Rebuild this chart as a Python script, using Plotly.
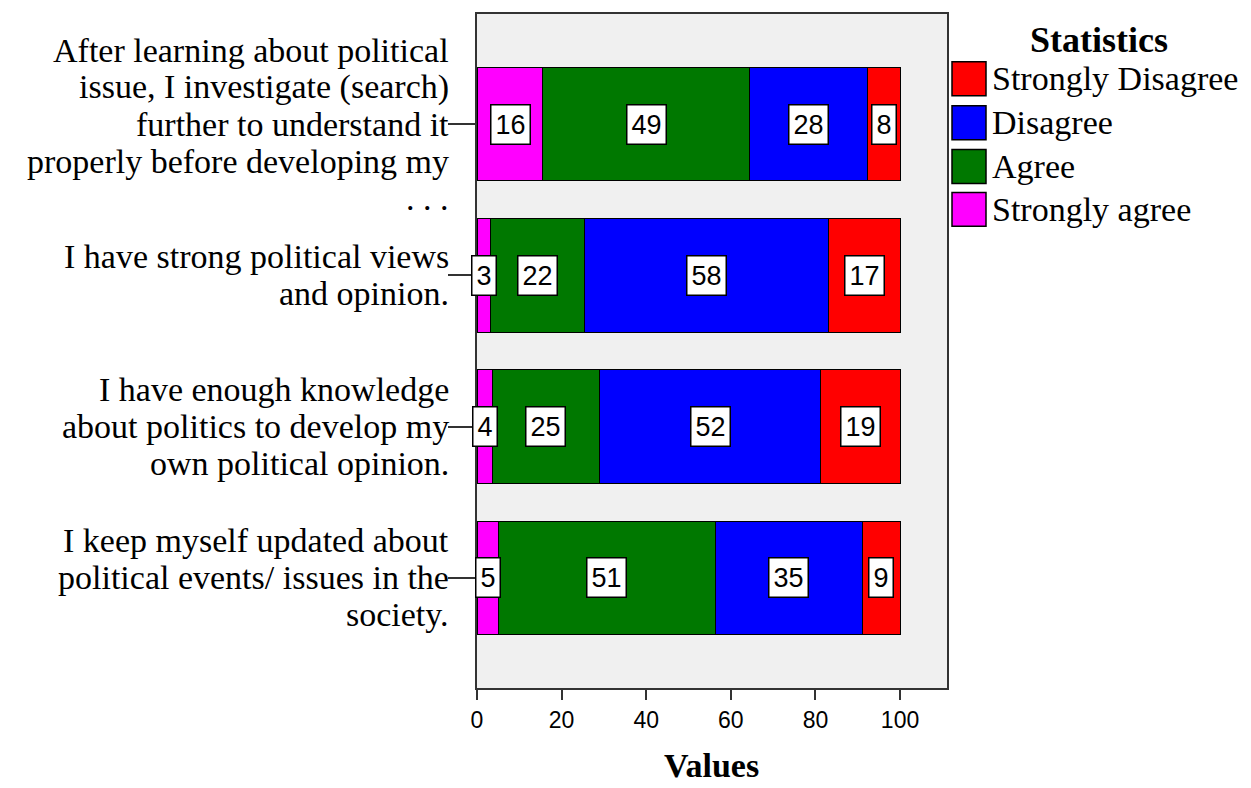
import plotly.graph_objects as go

# ---------------- data ----------------
categories = [
    ["After learning about political", "issue, I investigate (search)", "further to understand it",
     "properly before developing my", ". . ."],
    ["I have strong political views", "and opinion."],
    ["I have enough knowledge", "about politics to develop my", "own political opinion."],
    ["I keep myself updated about", "political events/ issues in the", "society."],
]
series_names = ["Strongly agree", "Agree", "Disagree", "Strongly Disagree"]
strongly_agree = [15.6, 3.1, 3.6, 5.0]
agree = [48.9, 22.2, 25.4, 51.3]
disagree = [27.9, 57.7, 52.3, 34.8]
strongly_disagree = [7.6, 17.0, 18.7, 8.9]
series_values = [strongly_agree, agree, disagree, strongly_disagree]
series_colors = ["#FF00FF", "#007800", "#0000FF", "#FF0000"]
legend_order = [3, 2, 1, 0]
x_ticks = [0, 20, 40, 60, 80, 100]

# ---------------- layout geometry (pixels, in the 1251x788 window) ----------------
W, H = 1251, 788
OX, OY = 8, 8          # page body margin offset
L, R, T, B = 477, 947, 12, 688


def px_x(p):
    return (p - L) / (R - L)


def px_y(p):
    return (B - p) / (B - T)


SERIF = "Liberation Serif"
SANS = "Liberation Sans"

fig = go.Figure()
yidx = list(range(len(categories)))
for name, vals, col in zip(series_names, series_values, series_colors):
    fig.add_trace(go.Bar(
        y=yidx, x=vals, name=name, orientation="h",
        marker=dict(color=col, line=dict(color="#000000", width=1)),
        width=0.75, showlegend=False, hoverinfo="x+name",
    ))

annotations = []
# value labels
for i in yidx:
    start = 0.0
    for vals in series_values:
        v = vals[i]
        annotations.append(dict(
            x=start + v / 2, y=i, xref="x", yref="y", text=f"{v:.0f}", showarrow=False,
            font=dict(family=SANS, size=27, color="#000000"),
            bgcolor="#FFFFFF", bordercolor="#000000", borderwidth=1.5, borderpad=4,
        ))
        start += v

# category labels (one annotation per line)
LINE = 37
for i, lines in enumerate(categories):
    n = len(lines)
    for j, line in enumerate(lines):
        annotations.append(dict(
            x=0, y=i, xref="paper", yref="y", text=line, showarrow=False,
            xanchor="right", yanchor="middle", xshift=-26,
            yshift=((n - 1) / 2 - j) * LINE,
            font=dict(family=SERIF, size=34, color="#000000"),
        ))

# x-axis title
annotations.append(dict(
    x=px_x(711), y=px_y(766), xref="paper", yref="paper", text="<b>Values</b>",
    showarrow=False, xanchor="center", yanchor="middle",
    font=dict(family=SERIF, size=34, color="#000000"),
))

# manual legend
annotations.append(dict(
    x=px_x(1099), y=px_y(38), xref="paper", yref="paper", text="<b>Statistics</b>",
    showarrow=False, xanchor="center", yanchor="middle",
    font=dict(family=SERIF, size=36, color="#000000"),
))
shapes = []
item_y = [77, 121, 165, 208]
for k, si in enumerate(legend_order):
    cy = item_y[k]
    shapes.append(dict(
        type="rect", xref="paper", yref="paper",
        x0=px_x(952), x1=px_x(986), y0=px_y(cy - 17), y1=px_y(cy + 17),
        fillcolor=series_colors[si], line=dict(color="#000000", width=1.5),
    ))
    annotations.append(dict(
        x=px_x(990), y=px_y(cy), xref="paper", yref="paper", text=series_names[si],
        showarrow=False, xanchor="left", yanchor="middle",
        font=dict(family=SERIF, size=34, color="#000000"),
    ))

fig.update_layout(
    width=W - OX, height=H - OY,
    margin=dict(l=L - OX, r=W - R, t=T - OY, b=H - B, pad=0),
    barmode="stack", bargap=0.25,
    plot_bgcolor="#F0F0F0", paper_bgcolor="#FFFFFF",
    annotations=annotations, shapes=shapes,
    showlegend=False,
    xaxis=dict(
        range=[0, 111.1], tickvals=x_ticks, ticktext=[str(t) for t in x_ticks],
        ticks="outside", ticklen=10, tickwidth=2, tickcolor="#333333",
        tickfont=dict(family=SANS, size=23, color="#000000"),
        showgrid=False, zeroline=False,
        showline=True, linecolor="#333333", linewidth=2, mirror=True,
    ),
    yaxis=dict(
        range=[3.73, -0.73], tickvals=yidx, showticklabels=False,
        ticks="outside", ticklen=27, tickwidth=2, tickcolor="#333333",
        showgrid=False, zeroline=False,
        showline=True, linecolor="#333333", linewidth=2, mirror=True,
    ),
)

fig.write_html("out.html")
